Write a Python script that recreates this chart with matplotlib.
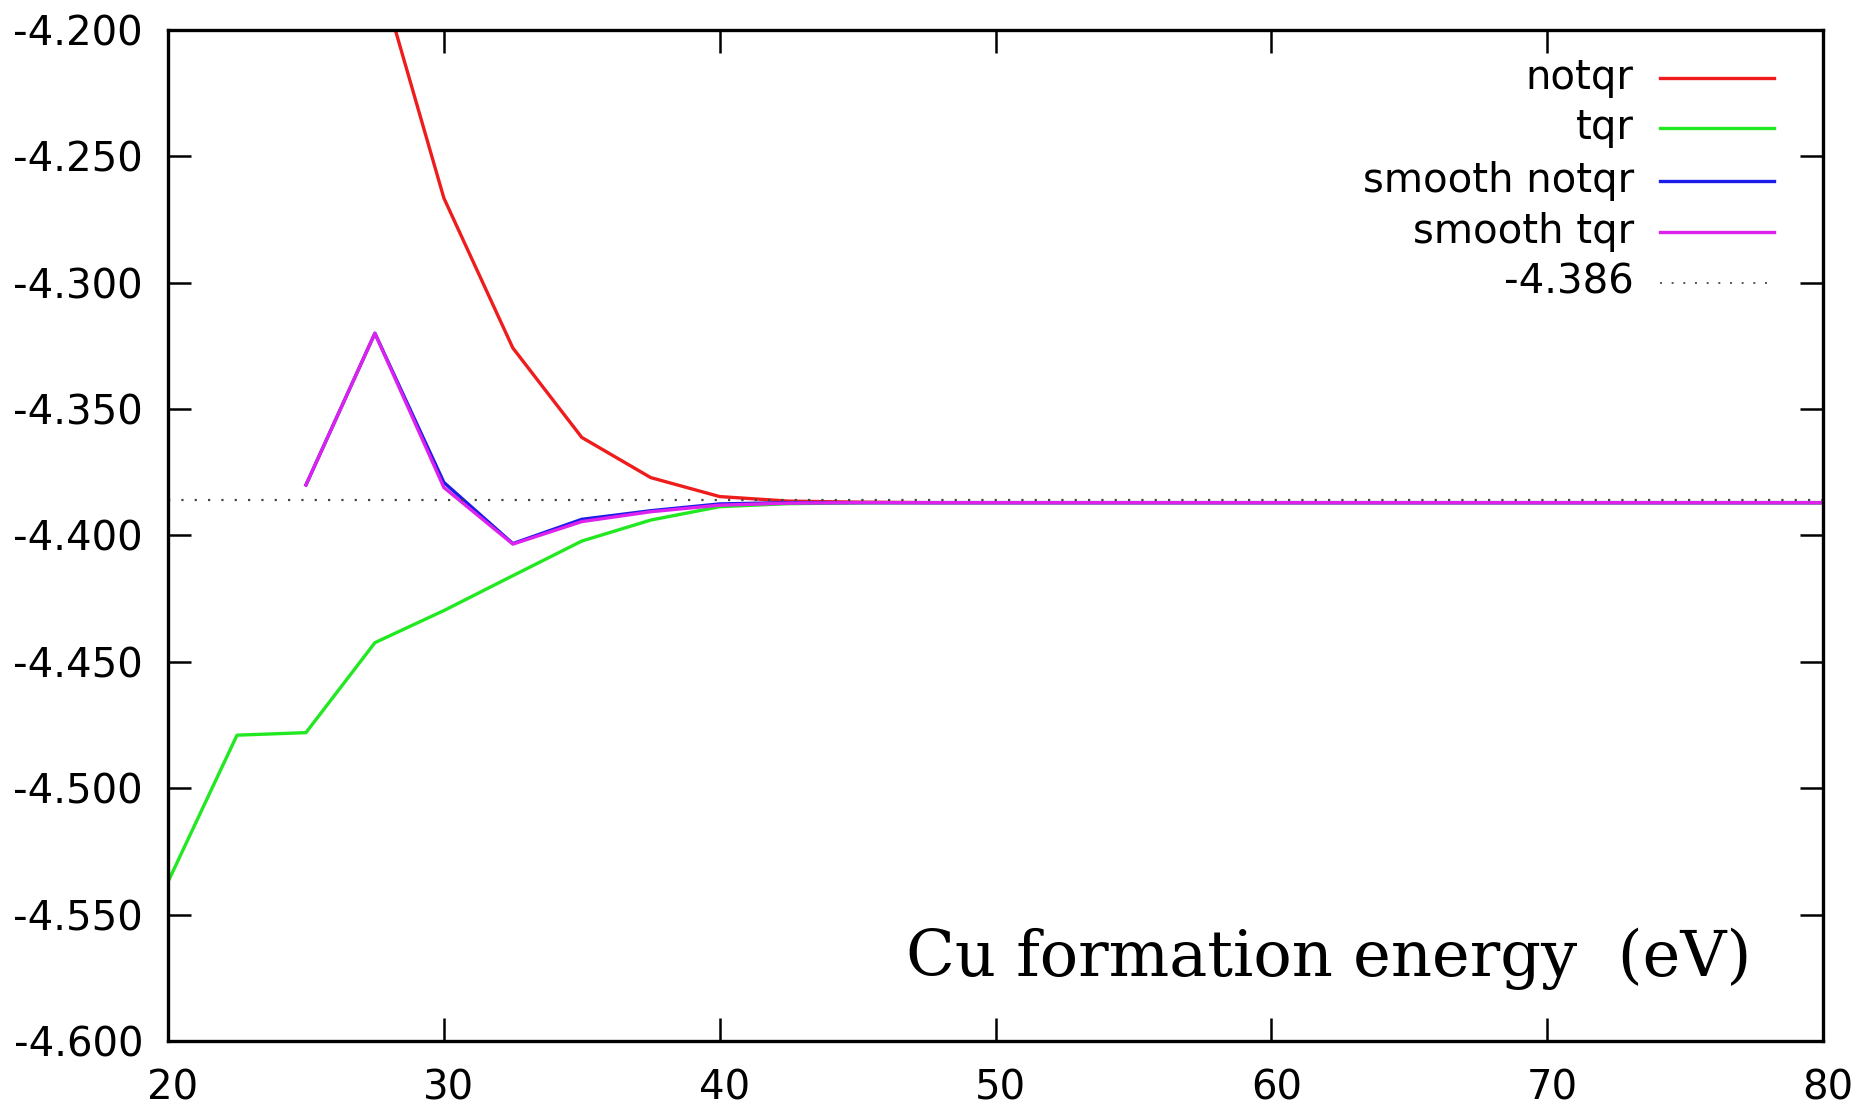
import numpy as np
import matplotlib
matplotlib.use("Agg")
import matplotlib.pyplot as plt
import matplotlib.transforms as mtransforms

nan = np.nan

# cutoff values (x axis)
cutoff = [20, 22.5, 25, 27.5, 30, 32.5, 35, 37.5, 40, 42.5, 45, 47.5, 50,
          52.5, 55, 57.5, 60, 62.5, 65, 67.5, 70, 72.5, 75, 77.5, 80]

notqr = [-3.900, -3.980, -4.070, -4.172, -4.2665, -4.3258, -4.3612, -4.3771,
         -4.3846, -4.3864, -4.3868, -4.387, -4.387, -4.387, -4.387, -4.387,
         -4.387, -4.387, -4.387, -4.387, -4.387, -4.387, -4.387, -4.387, -4.387]

tqr = [-4.537, -4.479, -4.478, -4.4424, -4.4297, -4.4159, -4.4022, -4.3939,
       -4.3886, -4.3874, -4.3871, -4.387, -4.387, -4.387, -4.387, -4.387,
       -4.387, -4.387, -4.387, -4.387, -4.387, -4.387, -4.387, -4.387, -4.387]

smooth_notqr = [nan, nan, -4.380, -4.320, -4.379, -4.4032, -4.3936, -4.3902,
                -4.3875, -4.3870, -4.387, -4.387, -4.387, -4.387, -4.387, -4.387,
                -4.387, -4.387, -4.387, -4.387, -4.387, -4.387, -4.387, -4.387, -4.387]

smooth_tqr = [nan, nan, -4.380, -4.320, -4.381, -4.4034, -4.3945, -4.3906,
              -4.3880, -4.3872, -4.387, -4.387, -4.387, -4.387, -4.387, -4.387,
              -4.387, -4.387, -4.387, -4.387, -4.387, -4.387, -4.387, -4.387, -4.387]

ref_value = -4.386
ref_x = [20, 80]

labels = ["notqr", "tqr", "smooth notqr", "smooth tqr", "-4.386"]
colors = ["#ee1c1c", "#22e822", "#1c1ce8", "#dd22ee", "#444444"]

xticks = [20, 30, 40, 50, 60, 70, 80]
yticks = [-4.6, -4.55, -4.5, -4.45, -4.4, -4.35, -4.3, -4.25, -4.2]

plt.rcParams['font.family'] = ['DejaVu Sans']

fig = plt.figure(figsize=(18.65, 11.19), dpi=100)
ax = fig.add_axes([0.0901, 0.0697, 0.8874, 0.9035])

lw = 2.4
ax.plot(cutoff, notqr, color=colors[0], lw=lw)
ax.plot(cutoff, tqr, color=colors[1], lw=lw)
ax.plot(cutoff, smooth_notqr, color=colors[2], lw=lw)
ax.plot(cutoff, smooth_tqr, color=colors[3], lw=lw)
dot_style = (0, (1, 5))
ax.plot(ref_x, [ref_value, ref_value], color=colors[4], lw=1.6, linestyle=dot_style)

ax.set_xlim(20, 80)
ax.set_ylim(-4.6, -4.2)
ax.set_xticks(xticks)
ax.set_xticklabels([str(t) for t in xticks])
ax.set_yticks(yticks)
ax.set_yticklabels(["%.3f" % t for t in yticks])

ax.tick_params(direction="in", length=16.5, width=1.8, labelsize=29,
               top=True, right=True)
ax.tick_params(axis="x", pad=20)
ax.tick_params(axis="y", pad=18)
for sp in ax.spines.values():
    sp.set_linewidth(2.4)

# gnuplot puts the x labels a few pixels right of the ticks
shift = mtransforms.ScaledTranslation(5 / 100, 0, fig.dpi_scale_trans)
for lab in ax.get_xticklabels():
    lab.set_transform(lab.get_transform() + shift)

# gnuplot style key: right-justified text, sample line to the right
key_y = [0.953, 0.903, 0.851, 0.800, 0.750]
for i in range(5):
    if i == 4:
        ax.plot([0.9017, 0.9690], [key_y[i], key_y[i]], transform=ax.transAxes,
                color="#555555", lw=1.4, linestyle=(0, (1, 5)))
    else:
        ax.plot([0.9017, 0.9705], [key_y[i], key_y[i]], transform=ax.transAxes,
                color=colors[i], lw=lw)
    ax.text(0.8857, key_y[i], labels[i], transform=ax.transAxes, ha="right",
            va="center", fontsize=29)

ax.text(0.957, 0.0643, "Cu formation energy  (eV)", transform=ax.transAxes,
        ha="right", va="baseline", fontsize=46, family="DejaVu Serif")

plt.savefig("out.png", dpi=100)
